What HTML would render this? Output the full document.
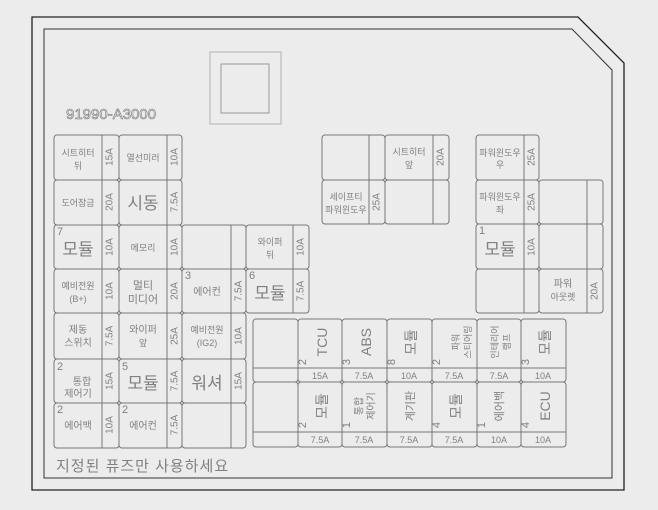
<!DOCTYPE html>
<html><head><meta charset="utf-8"><style>
html,body{margin:0;padding:0;background:#ececec;}
svg{display:block;}
text{font-family:"Liberation Sans","Noto Sans CJK KR",sans-serif;fill:#808080;}
.s{font-size:9px;}
.a{font-size:10px;}
.b{font-size:17px;}
.n{font-size:11px;}
.c{stroke:#777;stroke-width:1;fill:none;}
</style></head><body>
<svg width="658" height="510" viewBox="0 0 658 510" xmlns="http://www.w3.org/2000/svg">
<rect width="658" height="510" fill="#ececec"/>
<polygon points="32,17 578,17 624,63 624,490 32,490" fill="none" stroke="#222" stroke-width="1.3"/>
<polygon points="44,29 572,29 612,70 612,478 44,478" fill="none" stroke="#333" stroke-width="1"/>
<rect x="210" y="52" width="71" height="72" fill="none" stroke="#bbb" stroke-width="1.2"/>
<rect x="221" y="64" width="48" height="49" fill="none" stroke="#999" stroke-width="1"/>
<text x="66" y="119" style="font-size:15px;fill:none;stroke:#777;stroke-width:0.6">91990-A3000</text>

<g class="c">
<rect x="54" y="135" width="65" height="45" rx="3"/><line x1="102" y1="135" x2="102" y2="180"/>
<rect x="119" y="135" width="63" height="45" rx="3"/><line x1="167" y1="135" x2="167" y2="180"/>
<rect x="54" y="180" width="65" height="45" rx="3"/><line x1="102" y1="180" x2="102" y2="225"/>
<rect x="119" y="180" width="63" height="45" rx="3"/><line x1="167" y1="180" x2="167" y2="225"/>
<rect x="54" y="225" width="65" height="44" rx="3"/><line x1="102" y1="225" x2="102" y2="269"/>
<rect x="119" y="225" width="63" height="44" rx="3"/><line x1="167" y1="225" x2="167" y2="269"/>
<rect x="182" y="225" width="64" height="44" rx="3"/><line x1="231" y1="225" x2="231" y2="269"/>
<rect x="246" y="225" width="63" height="44" rx="3"/><line x1="293" y1="225" x2="293" y2="269"/>
<rect x="54" y="269" width="65" height="44" rx="3"/><line x1="102" y1="269" x2="102" y2="313"/>
<rect x="119" y="269" width="63" height="44" rx="3"/><line x1="167" y1="269" x2="167" y2="313"/>
<rect x="182" y="269" width="64" height="44" rx="3"/><line x1="231" y1="269" x2="231" y2="313"/>
<rect x="246" y="269" width="63" height="44" rx="3"/><line x1="293" y1="269" x2="293" y2="313"/>
<rect x="54" y="313" width="65" height="46" rx="3"/><line x1="102" y1="313" x2="102" y2="359"/>
<rect x="119" y="313" width="63" height="46" rx="3"/><line x1="167" y1="313" x2="167" y2="359"/>
<rect x="182" y="313" width="64" height="46" rx="3"/><line x1="231" y1="313" x2="231" y2="359"/>
<rect x="54" y="359" width="65" height="44" rx="3"/><line x1="102" y1="359" x2="102" y2="403"/>
<rect x="119" y="359" width="63" height="44" rx="3"/><line x1="167" y1="359" x2="167" y2="403"/>
<rect x="182" y="359" width="64" height="44" rx="3"/><line x1="231" y1="359" x2="231" y2="403"/>
<rect x="54" y="403" width="65" height="45" rx="3"/><line x1="102" y1="403" x2="102" y2="448"/>
<rect x="119" y="403" width="63" height="45" rx="3"/><line x1="167" y1="403" x2="167" y2="448"/>
<rect x="182" y="403" width="64" height="45" rx="3"/><line x1="231" y1="403" x2="231" y2="448"/>
<rect x="322" y="135" width="63" height="45" rx="3"/><line x1="369" y1="135" x2="369" y2="180"/>
<rect x="385" y="135" width="64" height="45" rx="3"/><line x1="433" y1="135" x2="433" y2="180"/>
<rect x="322" y="180" width="63" height="44" rx="3"/><line x1="369" y1="180" x2="369" y2="224"/>
<rect x="385" y="180" width="64" height="44" rx="3"/><line x1="433" y1="180" x2="433" y2="224"/>
<rect x="476" y="135" width="63" height="45" rx="3"/><line x1="524" y1="135" x2="524" y2="180"/>
<rect x="476" y="180" width="63" height="44" rx="3"/><line x1="524" y1="180" x2="524" y2="224"/>
<rect x="476" y="224" width="63" height="45" rx="3"/><line x1="524" y1="224" x2="524" y2="269"/>
<rect x="476" y="269" width="63" height="44" rx="3"/><line x1="524" y1="269" x2="524" y2="313"/>
<rect x="539" y="180" width="64" height="44" rx="3"/><line x1="587" y1="180" x2="587" y2="224"/>
<rect x="539" y="224" width="64" height="45" rx="3"/><line x1="587" y1="224" x2="587" y2="269"/>
<rect x="539" y="269" width="64" height="44" rx="3"/><line x1="587" y1="269" x2="587" y2="313"/>
<rect x="253" y="319" width="45" height="63" rx="3"/><rect x="298" y="319" width="44" height="63" rx="3"/><rect x="342" y="319" width="45" height="63" rx="3"/><rect x="387" y="319" width="45" height="63" rx="3"/><rect x="432" y="319" width="45" height="63" rx="3"/><rect x="477" y="319" width="44" height="63" rx="3"/><rect x="521" y="319" width="45" height="63" rx="3"/>
<rect x="253" y="382" width="45" height="65" rx="3"/><rect x="298" y="382" width="44" height="65" rx="3"/><rect x="342" y="382" width="45" height="65" rx="3"/><rect x="387" y="382" width="45" height="65" rx="3"/><rect x="432" y="382" width="45" height="65" rx="3"/><rect x="477" y="382" width="44" height="65" rx="3"/><rect x="521" y="382" width="45" height="65" rx="3"/>
<line x1="253" y1="368" x2="566" y2="368"/><line x1="253" y1="432" x2="566" y2="432"/>
</g>

<g class="s" text-anchor="middle">
<text x="78" y="156">시트히터</text><text x="78" y="169">뒤</text>
<text x="143" y="161">열선미러</text>
<text x="78" y="206">도어잠금</text>
<text x="143" y="251">메모리</text>
<text x="270" y="245">와이퍼</text><text x="270" y="258">뒤</text>
<text x="78" y="289">예비전원</text><text x="78" y="302">(B+)</text>
<text x="143" y="289" style="font-size:11px">멀티</text><text x="143" y="303" style="font-size:11px">미디어</text>
<text x="207" y="295" style="font-size:10px">에어컨</text>
<text x="78" y="333" style="font-size:10px">제동</text><text x="78" y="346" style="font-size:10px">스위치</text>
<text x="143" y="333" style="font-size:10px">와이퍼</text><text x="143" y="346">앞</text>
<text x="207" y="333">예비전원</text><text x="207" y="346">(IG2)</text>
<text x="82" y="385" style="font-size:10px">통합</text><text x="78" y="397" style="font-size:10px">제어기</text>
<text x="78" y="429" style="font-size:10px">에어백</text>
<text x="143" y="429" style="font-size:10px">에어컨</text>
<text x="409" y="155">시트히터</text><text x="409" y="168">앞</text>
<text x="346" y="200">세이프티</text><text x="346" y="213">파워윈도우</text>
<text x="500" y="156">파워윈도우</text><text x="500" y="168">우</text>
<text x="500" y="200">파워윈도우</text><text x="500" y="213">좌</text>
<text x="563" y="287" style="font-size:10px">파워</text><text x="563" y="300">아웃렛</text>
</g>
<g class="b" text-anchor="middle">
<text x="143" y="209">시동</text>
<text x="78" y="255">모듈</text>
<text x="270" y="299">모듈</text>
<text x="143" y="389">모듈</text>
<text x="207" y="389">워셔</text>
<text x="500" y="255">모듈</text>
</g>
<g class="n">
<text x="57" y="235">7</text><text x="185" y="279">3</text><text x="249" y="279">6</text>
<text x="57" y="370">2</text><text x="122" y="370">5</text><text x="57" y="413">2</text><text x="122" y="413">2</text>
<text x="479" y="234">1</text>
</g>

<g class="a" text-anchor="middle" dominant-baseline="central">
<text transform="translate(110,157) rotate(-90)">15A</text>
<text transform="translate(175,157) rotate(-90)">10A</text>
<text transform="translate(110,202) rotate(-90)">20A</text>
<text transform="translate(175,202) rotate(-90)">7.5A</text>
<text transform="translate(110,247) rotate(-90)">10A</text>
<text transform="translate(175,247) rotate(-90)">10A</text>
<text transform="translate(301,247) rotate(-90)">10A</text>
<text transform="translate(110,291) rotate(-90)">10A</text>
<text transform="translate(175,291) rotate(-90)">20A</text>
<text transform="translate(239,291) rotate(-90)">7.5A</text>
<text transform="translate(301,291) rotate(-90)">7.5A</text>
<text transform="translate(110,336) rotate(-90)">7.5A</text>
<text transform="translate(175,336) rotate(-90)">25A</text>
<text transform="translate(239,336) rotate(-90)">10A</text>
<text transform="translate(110,381) rotate(-90)">15A</text>
<text transform="translate(175,381) rotate(-90)">7.5A</text>
<text transform="translate(239,381) rotate(-90)">15A</text>
<text transform="translate(110,425) rotate(-90)">10A</text>
<text transform="translate(175,425) rotate(-90)">7.5A</text>
<text transform="translate(441,157) rotate(-90)">20A</text>
<text transform="translate(377,202) rotate(-90)">25A</text>
<text transform="translate(532,157) rotate(-90)">25A</text>
<text transform="translate(532,202) rotate(-90)">25A</text>
<text transform="translate(532,247) rotate(-90)">10A</text>
<text transform="translate(595,291) rotate(-90)">20A</text>
</g>

<g class="s" text-anchor="middle">
<text x="320" y="379">15A</text><text x="364" y="379">7.5A</text><text x="409" y="379">10A</text><text x="454" y="379">7.5A</text><text x="499" y="379">7.5A</text><text x="543" y="379">10A</text>
<text x="320" y="443">7.5A</text><text x="364" y="443">7.5A</text><text x="409" y="443">7.5A</text><text x="454" y="443">7.5A</text><text x="499" y="443">10A</text><text x="543" y="443">10A</text>
</g>
<g text-anchor="middle" dominant-baseline="central" style="font-size:14px">
<text transform="translate(322,342) rotate(-90)">TCU</text>
<text transform="translate(366,342) rotate(-90)">ABS</text>
<text transform="translate(411,342) rotate(-90)">모듈</text>
<text transform="translate(456,342) rotate(-90)" style="font-size:9px">파워</text>
<text transform="translate(468,342) rotate(-90)" style="font-size:9px">스티어링</text>
<text transform="translate(495,342) rotate(-90)" style="font-size:9px">인테리어</text>
<text transform="translate(507,342) rotate(-90)" style="font-size:9px">램프</text>
<text transform="translate(545,342) rotate(-90)">모듈</text>
<text transform="translate(322,406) rotate(-90)">모듈</text>
<text transform="translate(360,406) rotate(-90)" style="font-size:10px">통합</text>
<text transform="translate(372,406) rotate(-90)" style="font-size:10px">제어기</text>
<text transform="translate(411,406) rotate(-90)" style="font-size:11px">계기판</text>
<text transform="translate(456,406) rotate(-90)">모듈</text>
<text transform="translate(500,406) rotate(-90)" style="font-size:11px">에어백</text>
<text transform="translate(545,406) rotate(-90)">ECU</text>
</g>
<g class="n" text-anchor="middle" dominant-baseline="central">
<text transform="translate(303,362) rotate(-90)">2</text><text transform="translate(347,362) rotate(-90)">3</text><text transform="translate(392,362) rotate(-90)">8</text><text transform="translate(437,362) rotate(-90)">2</text><text transform="translate(526,362) rotate(-90)">3</text>
<text transform="translate(303,425) rotate(-90)">2</text><text transform="translate(347,425) rotate(-90)">1</text><text transform="translate(437,425) rotate(-90)">4</text><text transform="translate(482,425) rotate(-90)">1</text><text transform="translate(526,425) rotate(-90)">4</text>
</g>

<text x="56" y="471" style="font-size:15px;letter-spacing:1px">지정된 퓨즈만 사용하세요</text>
</svg>
</body></html>
